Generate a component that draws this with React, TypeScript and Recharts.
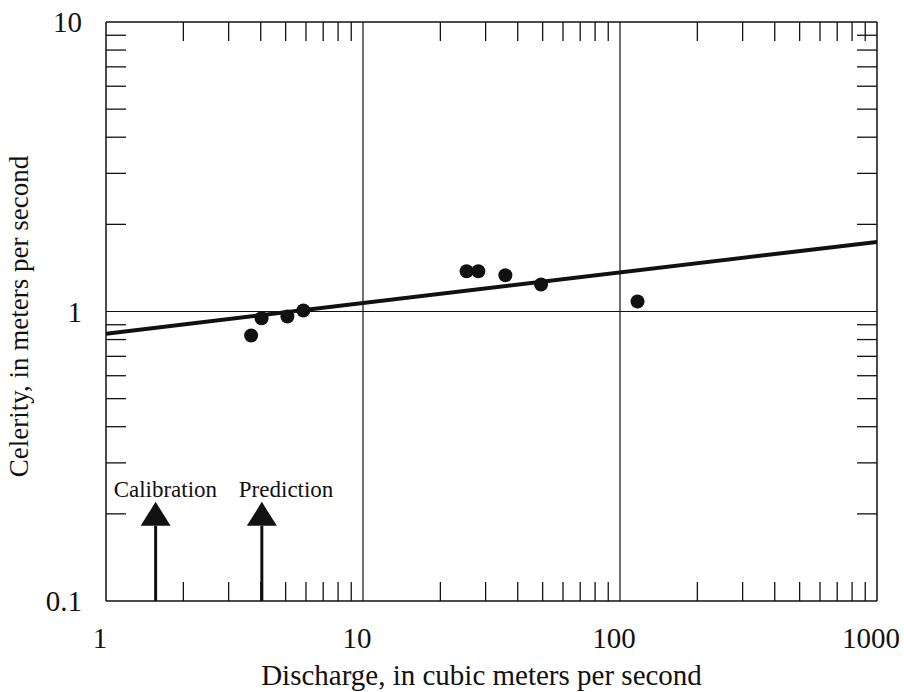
import React from 'react';
import { ComposedChart, Line, Scatter, XAxis, YAxis, ReferenceLine } from 'recharts';

// observed celerity vs discharge
const obsQ = [3.67, 4.03, 5.08, 5.86, 25.3, 28.1, 35.8, 49.3, 117];
const obsC = [0.826, 0.948, 0.961, 1.008, 1.377, 1.377, 1.334, 1.239, 1.083];

// fitted relation, end points
const fitQ = [1, 1000];
const fitC = [0.838, 1.74];

// calibration / prediction markers
const arrowNames = ['Calibration', 'Prediction'];
const arrowQ = [1.56, 4.04];
const arrowTipC = 0.22;

const xTicks = [1, 10, 100, 1000];
const yTicks = [0.1, 1, 10];
const xMinor = [2, 3, 4, 5, 6, 7, 8, 9, 20, 30, 40, 50, 60, 70, 80, 90, 200, 300, 400, 500, 600, 700, 800, 900];
const yMinor = [0.2, 0.3, 0.4, 0.5, 0.6, 0.7, 0.8, 0.9, 2, 3, 4, 5, 6, 7, 8, 9];
const xGrid = [10, 100];
const yGrid = [1];

const obs = obsQ.map((q, i) => ({ q, c: obsC[i] }));
const fit = fitQ.map((q, i) => ({ q, c: fitC[i] }));

const FONT = '"Liberation Serif", "Times New Roman", serif';
const INK = '#111';
const labelDx = [-42, -23];

const tickStyle = { fill: INK, fontSize: 29, fontFamily: FONT };
const minorLine = { stroke: INK, strokeWidth: 1.3 };
const frame = { stroke: INK, strokeWidth: 1.5 };
const noLabel = () => <g />;

const Dot = (p: any) => <circle cx={p.cx} cy={p.cy} r={7} fill={INK} />;

const arrowShape = (i: number) => (p: any) => {
  const x = p.x1;
  const yb = Math.max(p.y1, p.y2);
  const yt = Math.min(p.y1, p.y2);
  return (
    <g>
      <line x1={x} y1={yb} x2={x} y2={yt + 24} stroke={INK} strokeWidth={3} />
      <polygon points={`${x},${yt} ${x - 15},${yt + 24} ${x + 15},${yt + 24}`} fill={INK} />
      <text x={x + labelDx[i]} y={yt - 5} fontSize={23} fontFamily={FONT} fill={INK}>
        {arrowNames[i]}
      </text>
    </g>
  );
};

export default function App() {
  return (
    <div style={{ position: 'absolute', left: 0, top: 0, background: '#fff' }}>
      <ComposedChart width={904} height={692} margin={{ top: 22, right: 27, left: 0, bottom: 0 }}>
        <XAxis
          xAxisId="m"
          dataKey="q"
          type="number"
          scale="log"
          domain={[1, 1000]}
          allowDataOverflow
          ticks={xTicks}
          interval={0}
          height={91}
          tickLine={false}
          tickSize={0}
          tickMargin={26}
          tick={{ ...tickStyle, dx: -6 }}
          axisLine={frame}
          label={{
            value: 'Discharge, in cubic meters per second',
            position: 'center',
            dx: -10,
            dy: 28,
            fontSize: 29,
            fontFamily: FONT,
            fill: INK,
          }}
        />
        <XAxis
          xAxisId="b"
          dataKey="q"
          type="number"
          scale="log"
          domain={[1, 1000]}
          allowDataOverflow
          ticks={xMinor}
          interval={0}
          orientation="bottom"
          mirror
          height={30}
          tick={noLabel}
          tickSize={19}
          tickLine={minorLine}
          axisLine={false}
        />
        <XAxis
          xAxisId="t"
          dataKey="q"
          type="number"
          scale="log"
          domain={[1, 1000]}
          allowDataOverflow
          ticks={xMinor}
          interval={0}
          orientation="top"
          mirror
          height={30}
          tick={noLabel}
          tickSize={19}
          tickLine={minorLine}
          axisLine={frame}
        />
        <YAxis
          yAxisId="m"
          dataKey="c"
          type="number"
          scale="log"
          domain={[0.1, 10]}
          allowDataOverflow
          ticks={yTicks}
          interval={0}
          width={106}
          tickLine={false}
          tickSize={0}
          tickMargin={24}
          tick={tickStyle}
          axisLine={frame}
          label={{
            value: 'Celerity, in meters per second',
            position: 'center',
            angle: -90,
            dx: -35,
            dy: 5,
            fontSize: 27,
            fontFamily: FONT,
            fill: INK,
          }}
        />
        <YAxis
          yAxisId="l"
          dataKey="c"
          type="number"
          scale="log"
          domain={[0.1, 10]}
          allowDataOverflow
          ticks={yMinor}
          interval={0}
          orientation="left"
          mirror
          width={30}
          tick={noLabel}
          tickSize={20}
          tickLine={minorLine}
          axisLine={false}
        />
        <YAxis
          yAxisId="r"
          dataKey="c"
          type="number"
          scale="log"
          domain={[0.1, 10]}
          allowDataOverflow
          ticks={yMinor}
          interval={0}
          orientation="right"
          mirror
          width={30}
          tick={noLabel}
          tickSize={20}
          tickLine={minorLine}
          axisLine={frame}
        />

        {xGrid.map((g) => (
          <ReferenceLine key={`x${g}`} xAxisId="m" yAxisId="m" x={g} stroke={INK} strokeWidth={1.2} />
        ))}
        {yGrid.map((g) => (
          <ReferenceLine key={`y${g}`} xAxisId="m" yAxisId="m" y={g} stroke={INK} strokeWidth={1.2} />
        ))}

        {arrowQ.map((q, i) => (
          <ReferenceLine
            key={arrowNames[i]}
            xAxisId="m"
            yAxisId="m"
            segment={[
              { x: q, y: 0.1 },
              { x: q, y: arrowTipC },
            ]}
            shape={arrowShape(i)}
          />
        ))}

        {/* invisible series so the tick-only axes get a domain */}
        <Line xAxisId="b" yAxisId="l" data={fit} dataKey="c" stroke="none" dot={false} activeDot={false} isAnimationActive={false} />
        <Line xAxisId="t" yAxisId="r" data={fit} dataKey="c" stroke="none" dot={false} activeDot={false} isAnimationActive={false} />

        <Line
          xAxisId="m"
          yAxisId="m"
          data={fit}
          dataKey="c"
          type="linear"
          stroke={INK}
          strokeWidth={4}
          dot={false}
          activeDot={false}
          isAnimationActive={false}
        />
        <Scatter
          xAxisId="m"
          yAxisId="m"
          data={obs}
          dataKey="c"
          shape={Dot}
          isAnimationActive={false}
        />
      </ComposedChart>
    </div>
  );
}
